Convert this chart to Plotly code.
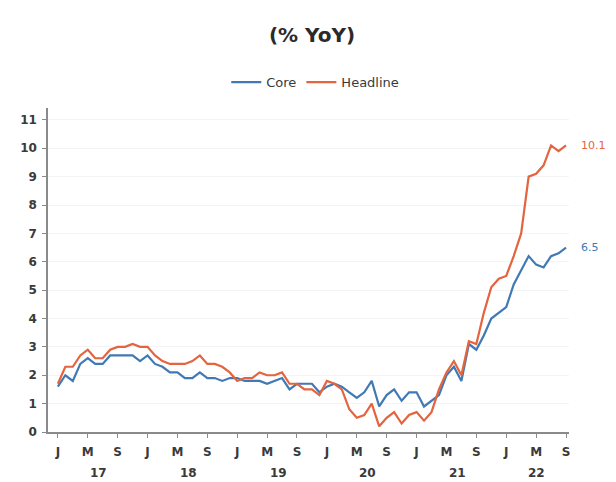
import plotly.graph_objects as go

headline = [1.7, 2.3, 2.3, 2.7, 2.9, 2.6, 2.6, 2.9, 3.0, 3.0, 3.1, 3.0,
            3.0, 2.7, 2.5, 2.4, 2.4, 2.4, 2.5, 2.7, 2.4, 2.4, 2.3, 2.1,
            1.8, 1.9, 1.9, 2.1, 2.0, 2.0, 2.1, 1.7, 1.7, 1.5, 1.5, 1.3,
            1.8, 1.7, 1.5, 0.8, 0.5, 0.6, 1.0, 0.2, 0.5, 0.7, 0.3, 0.6,
            0.7, 0.4, 0.7, 1.5, 2.1, 2.5, 2.0, 3.2, 3.1, 4.2, 5.1, 5.4,
            5.5, 6.2, 7.0, 9.0, 9.1, 9.4, 10.1, 9.9, 10.1]
core = [1.6, 2.0, 1.8, 2.4, 2.6, 2.4, 2.4, 2.7, 2.7, 2.7, 2.7, 2.5,
        2.7, 2.4, 2.3, 2.1, 2.1, 1.9, 1.9, 2.1, 1.9, 1.9, 1.8, 1.9,
        1.9, 1.8, 1.8, 1.8, 1.7, 1.8, 1.9, 1.5, 1.7, 1.7, 1.7, 1.4,
        1.6, 1.7, 1.6, 1.4, 1.2, 1.4, 1.8, 0.9, 1.3, 1.5, 1.1, 1.4,
        1.4, 0.9, 1.1, 1.3, 2.0, 2.3, 1.8, 3.1, 2.9, 3.4, 4.0, 4.2,
        4.4, 5.2, 5.7, 6.2, 5.9, 5.8, 6.2, 6.3, 6.5]
month_letters = ["J", "M", "S"]
years = ["17", "18", "19", "20", "21", "22"]
y_ticks = list(range(0, 12))

months = list(range(len(core)))
BLUE = "#4079b4"
RED = "#e3643e"
TXT = "#3a3a3a"
FONT = "DejaVu Sans, Verdana, sans-serif"
BOLDFONT = dict(family=FONT, size=12, color=TXT, weight="bold")

fig = go.Figure()
fig.add_trace(go.Scatter(x=months, y=core, mode="lines", name="Core",
                         line=dict(color=BLUE, width=2.2)))
fig.add_trace(go.Scatter(x=months, y=headline, mode="lines", name="Headline",
                         line=dict(color=RED, width=2.2)))

tickvals = list(range(0, len(core), 4))
ticktext = [month_letters[(v % 12) // 4] for v in tickvals]

annotations = []
for i, yr in enumerate(years):
    start = i * 12
    end = min(start + 11, len(core) - 1)
    annotations.append(dict(x=(start + end) / 2, y=-0.127, xref="x", yref="paper",
                            yanchor="middle", text=yr, showarrow=False,
                            font=BOLDFONT))
annotations.append(dict(x=months[-1], y=headline[-1], xref="x", yref="y",
                        text=f"{headline[-1]}", showarrow=False, xanchor="left",
                        xshift=13, font=dict(family=FONT, size=11, color=RED)))
annotations.append(dict(x=months[-1], y=core[-1], xref="x", yref="y",
                        text=f"{core[-1]}", showarrow=False, xanchor="left",
                        xshift=13, font=dict(family=FONT, size=11, color=BLUE)))

# page has an 8px body margin, so the figure is 608x474 and offset by 8px
fig.update_layout(
    width=608, height=474,
    paper_bgcolor="white", plot_bgcolor="white",
    margin=dict(l=35, r=47, t=100, b=50),
    font=dict(family=FONT, color=TXT),
    title=dict(text="<b>(% YoY)</b>", x=0.5, xanchor="center", y=0.943, yanchor="middle",
               font=dict(family=FONT, size=20, color="#2a2a2a")),
    showlegend=True,
    legend=dict(orientation="h", x=0.513, xanchor="center", y=1.08, yanchor="middle",
                font=dict(family=FONT, size=13, color=TXT), itemwidth=30, tracegroupgap=0),
    annotations=annotations,
)
fig.update_xaxes(range=[-1.32, 68.4], tickvals=tickvals, ticktext=ticktext,
                 showline=True, linecolor="#8a8a8a", linewidth=1.5,
                 ticks="outside", ticklen=4, tickcolor="#8a8a8a",
                 ticklabelstandoff=4,
                 showgrid=False, zeroline=False,
                 tickfont=BOLDFONT)
fig.update_yaxes(range=[0, 11.42], tickvals=y_ticks,
                 showline=True, linecolor="#8a8a8a", linewidth=1.5,
                 ticks="outside", ticklen=4, tickcolor="#8a8a8a",
                 ticklabelstandoff=3,
                 showgrid=True, gridcolor="#f4f4f4", zeroline=False,
                 tickfont=BOLDFONT)

fig.write_html("out.html")
